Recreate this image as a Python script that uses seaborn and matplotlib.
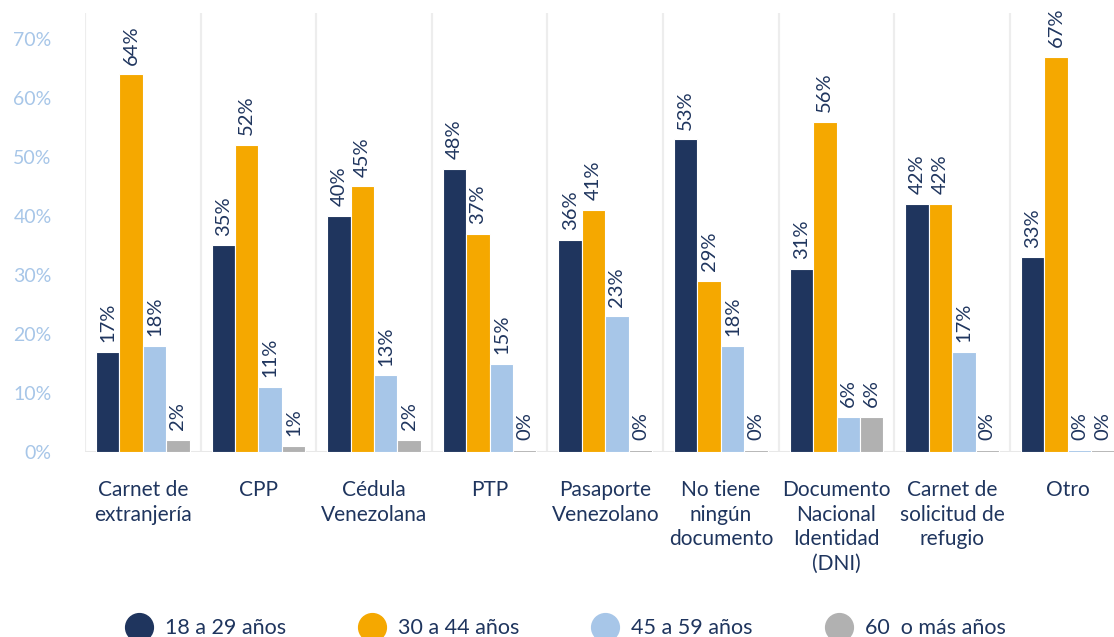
import pandas as pd
import numpy as np
import matplotlib
matplotlib.use("Agg")
import matplotlib.pyplot as plt
import seaborn as sns
from matplotlib.lines import Line2D

# datos
categorias = ["Carnet de\nextranjería", "CPP", "Cédula\nVenezolana", "PTP",
              "Pasaporte\nVenezolano", "No tiene\nningún\ndocumento",
              "Documento\nNacional\nIdentidad\n(DNI)", "Carnet de\nsolicitud de\nrefugio", "Otro"]
grupos = ["18 a 29 años", "30 a 44 años", "45 a 59 años", "60  o más años"]
edad_18_29 = [17, 35, 40, 48, 36, 53, 31, 42, 33]
edad_30_44 = [64, 52, 45, 37, 41, 29, 56, 42, 67]
edad_45_59 = [18, 11, 13, 15, 23, 18, 6, 17, 0]
edad_60_mas = [2, 1, 2, 0, 0, 0, 6, 0, 0]

colores = ["#1F355E", "#F5A800", "#A7C6E8", "#B1B1B1"]
texto = "#1F355E"

valores = [edad_18_29, edad_30_44, edad_45_59, edad_60_mas]
df = pd.DataFrame({
    "categoria": np.tile(categorias, len(grupos)),
    "grupo": np.repeat(grupos, len(categorias)),
    "valor": np.concatenate(valores),
})
# barras de 0% se ven como una linea fina
df["altura"] = df["valor"].clip(lower=0.35)

sns.set_style("white")
plt.rcParams["font.family"] = ["Lato", "DejaVu Sans"]

fig = plt.figure(figsize=(11.14, 6.37), dpi=100)
ax = fig.add_axes([0.0763, 0.2904, 0.9237, 0.6892])

sns.barplot(data=df, x="categoria", y="altura", hue="grupo", palette=colores,
            saturation=1, width=0.81, edgecolor="white", linewidth=0.8,
            legend=False, ax=ax)

# etiquetas de valor
for cont, vals in zip(ax.containers, valores):
    ax.bar_label(cont, labels=[f"{v}%" for v in vals], rotation=90, padding=7,
                 fontsize=14.5, color=texto)

# separadores entre grupos
for i in range(len(categorias)):
    ax.axvline(i - 0.5, color="#EDEDED", lw=1.6, zorder=0)
ax.axhline(0, color="#E8E8E8", lw=1.5, zorder=0)

ax.set_xlim(-0.5, 8.40)
ax.set_ylim(0, 74.4)
ax.set_yticks(range(0, 71, 10))
ax.set_yticklabels([f"{t}%" for t in range(0, 71, 10)], color="#A7C6E8", fontsize=14)
ax.tick_params(axis="y", length=0, pad=24)
ax.tick_params(axis="x", length=0, pad=20, labelsize=15, labelcolor=texto)
for lbl in ax.get_xticklabels():
    lbl.set_linespacing(1.3)
ax.set_xlabel("")
ax.set_ylabel("")
sns.despine(ax=ax, left=True, bottom=True)

# leyenda
handles = [Line2D([0], [0], marker="o", color="none", markerfacecolor=c,
                  markeredgecolor=c, markersize=20) for c in colores]
fig.legend(handles, grupos, loc="center", bbox_to_anchor=(0.508, 0.014), ncol=4,
           frameon=False, fontsize=15.5, labelcolor=texto, columnspacing=3.4,
           handletextpad=0.6, handlelength=1.2)

fig.savefig("out.png", dpi=100)
